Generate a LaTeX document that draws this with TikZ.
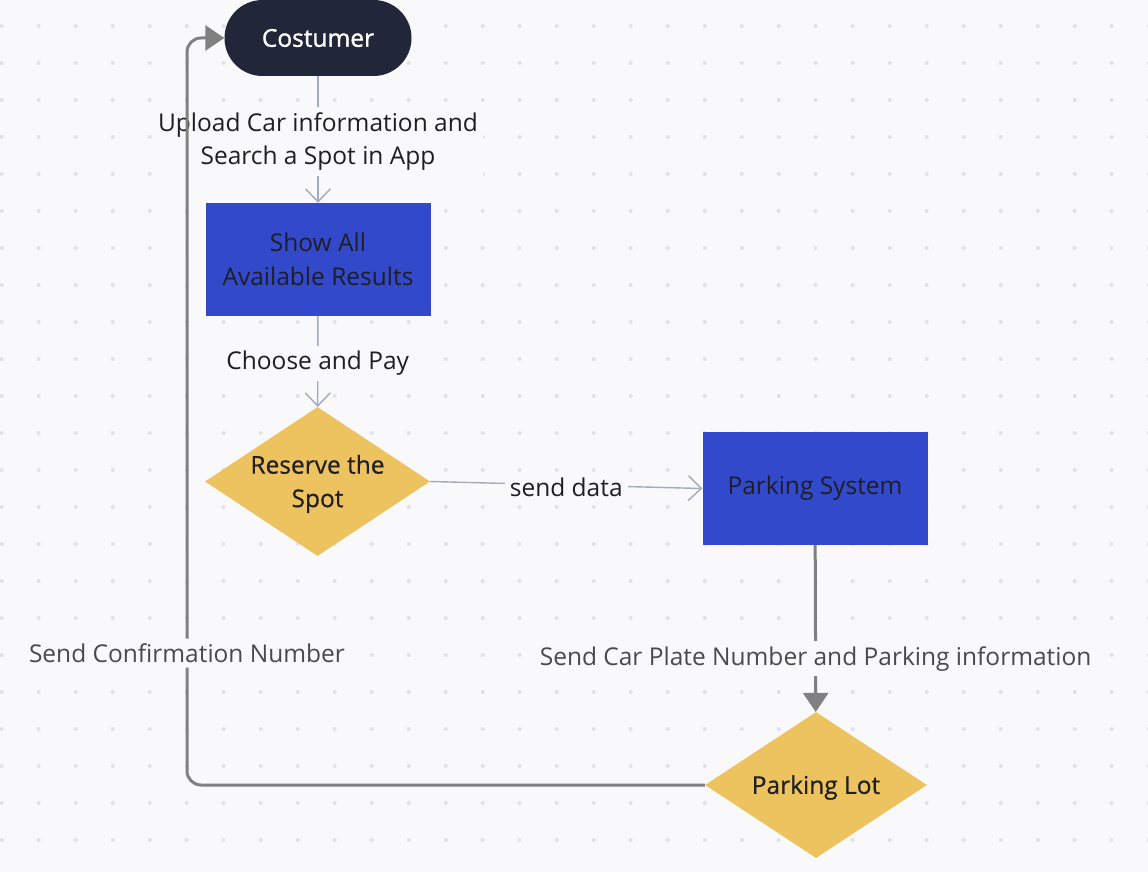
\documentclass[tikz,border=0pt]{standalone}
\usepackage{fontspec}
\setmainfont{Open Sans}
\usetikzlibrary{shapes.geometric,arrows.meta}
\definecolor{bg}{HTML}{F9F9FB}
\definecolor{dotc}{HTML}{E2E2E6}
\definecolor{navy}{HTML}{212738}
\definecolor{boxblue}{HTML}{3249CB}
\definecolor{gold}{HTML}{ECC35F}
\definecolor{thinline}{HTML}{A2AABD}
\definecolor{thickline}{HTML}{808080}
\definecolor{txtdark}{HTML}{1E1E24}
\definecolor{txtgray}{HTML}{4A4A4A}
\newcommand{\mainsize}{\fontsize{24.5}{33.5}\selectfont}
\begin{document}
\begin{tikzpicture}[x=1pt,y=-1pt,
  every node/.style={font=\mainsize},
  pill/.style={rectangle, rounded corners=38pt, fill=navy, text=white, minimum width=187pt, minimum height=76pt, inner sep=0pt, font=\mainsize\addfontfeature{FakeBold=1.2}},
  bluebox/.style={rectangle, fill=boxblue, text=txtdark, align=center, minimum width=225pt, minimum height=113pt, inner sep=0pt},
  decision/.style={diamond, fill=gold, inner sep=0pt, text=txtdark},
  dlabel/.style={align=center, text=txtdark, yshift=-2.5pt, font=\mainsize\addfontfeature{FakeBold=0.5}},
  thinconn/.style={draw=thinline, line width=1.4pt, -{Straight Barb[length=13pt,width=25pt,line width=1.4pt]}},
  thickconn/.style={draw=thickline, line width=3pt, -{Triangle[length=19pt,width=25pt]}},
  lab/.style={fill=bg, text=txtdark, align=center, inner sep=5pt, yshift=-2pt},
  labgray/.style={fill=bg, text=txtgray, align=center, inner sep=5pt, yshift=-2.5pt}
]
\fill[bg] (0,0) rectangle (1148,872);
\useasboundingbox (0,0) rectangle (1148,872);
\foreach \i in {0,...,31}{
  \foreach \j in {0,...,23}{
    \fill[dotc] ({1.7+37*\i},{26+37*\j}) circle (2pt);
  }
}
% nodes
\node[pill] (cust) at (318,38) {Costumer};
\node[bluebox] (show) at (318,259.5) {Show All\\Available Results};
\node[decision, minimum width=225pt, minimum height=149pt,
  label={[dlabel]center:Reserve the\\Spot}] (res) at (317.5,481.5) {};
\node[bluebox] (ps) at (815,488.5) {Parking System};
\node[decision, minimum width=222pt, minimum height=146pt,
  label={[dlabel]center:Parking Lot}] (lot) at (816,785) {};
\coordinate (c1) at (187,785);
\coordinate (c2) at (187,38);
% connectors
\draw[thinconn] (cust) -- node[lab]{Upload Car information and\\Search a Spot in App} (show);
\draw[thinconn] (show) -- node[lab]{Choose and Pay} (res);
\draw[thinconn] (res.east) -- node[lab]{send data} (ps.west);
\draw[thickconn] (ps) -- node[labgray, pos=0.665]{Send Car Plate Number and Parking information} (lot);
\draw[thickconn, rounded corners=14pt] (lot.west) -- (c1) -- node[labgray, pos=0.18]{Send Confirmation Number} (c2) -- (cust.west);
\end{tikzpicture}
\end{document}
